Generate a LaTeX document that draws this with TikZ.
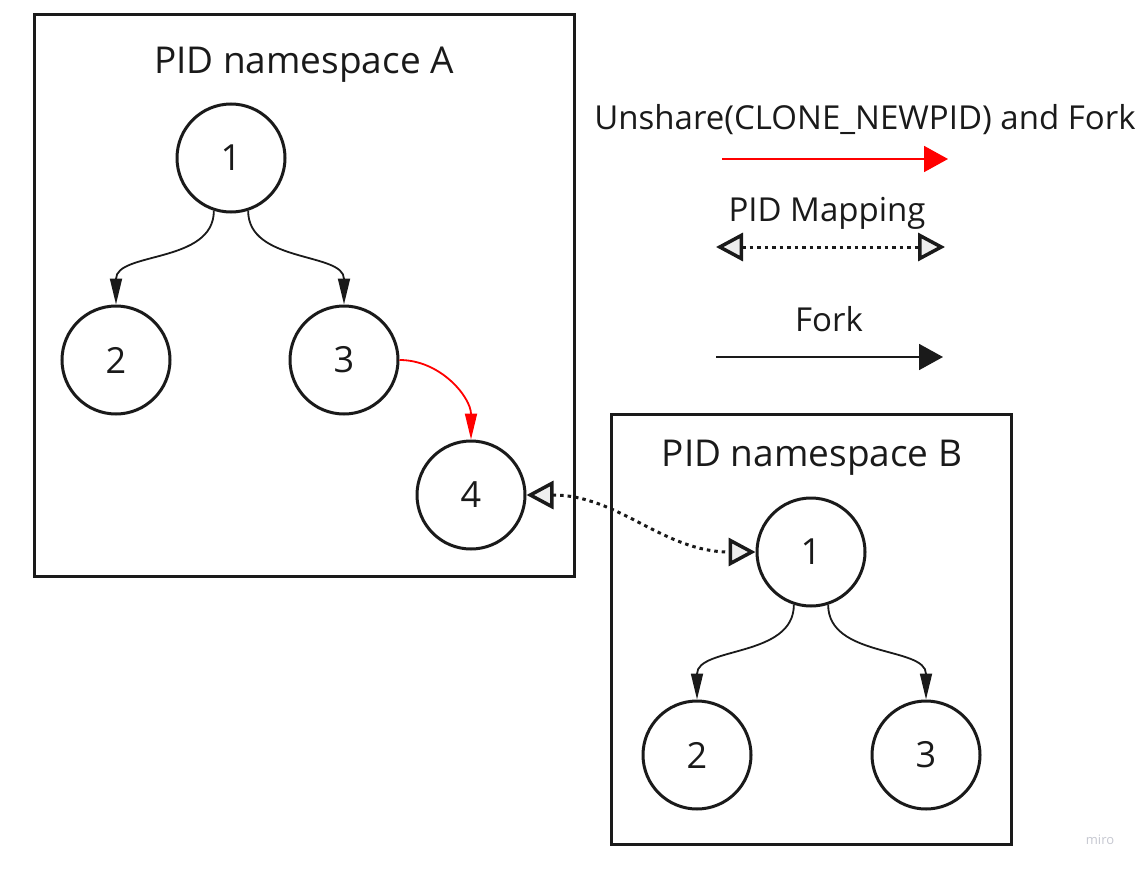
\documentclass[tikz,border=0pt]{standalone}
\usepackage{fontspec}
\setmainfont{Open Sans}
\usetikzlibrary{arrows.meta}
\definecolor{ink}{HTML}{1A1A1A}
\definecolor{tipgray}{HTML}{EEEEEE}
\definecolor{wmark}{HTML}{C5C7D0}
\tikzset{maptip/.tip={Triangle[open, length=27pt, width=28pt, line width=3.5pt, fill=tipgray]}}
\tikzstyle{line} = [draw, color=ink, line width=1.8pt, -{Triangle[length=26pt, width=12pt]}]
\tikzstyle{unshare} = [line, color=red]
\tikzstyle{big_tip} = [-{Triangle[length=24pt, width=26pt]}]
\tikzstyle{pid_map} = [draw, color=ink, line width=3pt, dash pattern=on 3.5pt off 4pt, maptip-maptip]
\tikzstyle{round} = [draw, circle, color=ink, line width=3pt, minimum size=108pt, inner sep=0pt, font=\fontsize{36}{36}\selectfont]
\tikzstyle{ns} = [rectangle, draw, color=ink, line width=3pt]
\tikzstyle{ns_title} = [text=ink, font=\fontsize{37}{37}\selectfont]
\tikzstyle{legend_txt} = [text=ink, font=\fontsize{33}{33}\selectfont]

\begin{document}
\begin{tikzpicture}[x=1pt, y=1pt]
	\useasboundingbox (0,0) rectangle (1145,-872);
	
	% namespace A
	\node [ns, minimum width=540pt, minimum height=562pt] (boxA) at (304.5,-295.5) {};
	\node [ns_title] (titleA) at (304,-65) {PID namespace A};
	\node [round] (a1) at (231,-158) {1};
	\node [round, below of = a1, node distance = 202pt, xshift = -115pt] (a2) {2};
	\node [round, right of = a2, node distance = 228pt] (a3) {3};
	\node [round, below of = a3, node distance = 135pt, xshift = 127pt] (a4) {4};
	\path [line] (a1.-108) to [out=-90, in=90] (a2.north);
	\path [line] (a1.-72) to [out=-90, in=90] (a3.north);
	\path [unshare] (a3.east) to [out=0, in=90] (a4.north);
	
	% namespace B
	\node [ns, minimum width=400pt, minimum height=430pt] (boxB) at (811.5,-629.5) {};
	\node [ns_title] (titleB) at (812,-458) {PID namespace B};
	\node [round] (b1) at (811,-552) {1};
	\node [round, below of = b1, node distance = 203pt, xshift = -114pt] (b2) {2};
	\node [round, right of = b2, node distance = 229pt] (b3) {3};
	\path [line] (b1.-108) to [out=-90, in=90] (b2.north);
	\path [line] (b1.-72) to [out=-90, in=90] (b3.north);
	
	% mapping
	\path [pid_map] (a4.east) to [out=0, in=180] (b1.west);
	
	% legend
	\node [legend_txt] (leg_un) at (865,-120) {Unshare(CLONE\_NEWPID) and Fork};
	\coordinate (un_s) at (722,-159);
	\coordinate (un_e) at (948,-159);
	\path [unshare, big_tip] (un_s) -- (un_e);
	
	\node [legend_txt] (leg_map) at (827,-213) {PID Mapping};
	\coordinate (map_s) at (716,-247);
	\coordinate (map_e) at (945,-247);
	\path [pid_map] (map_s) -- (map_e);
	
	\node [legend_txt] (leg_fork) at (829,-319) {Fork};
	\coordinate (fork_s) at (716,-357);
	\coordinate (fork_e) at (943,-357);
	\path [line, big_tip] (fork_s) -- (fork_e);
	
	\node [text=wmark, font=\fontsize{13}{13}\selectfont] (miro) at (1100,-840) {miro};
\end{tikzpicture}
\end{document}
